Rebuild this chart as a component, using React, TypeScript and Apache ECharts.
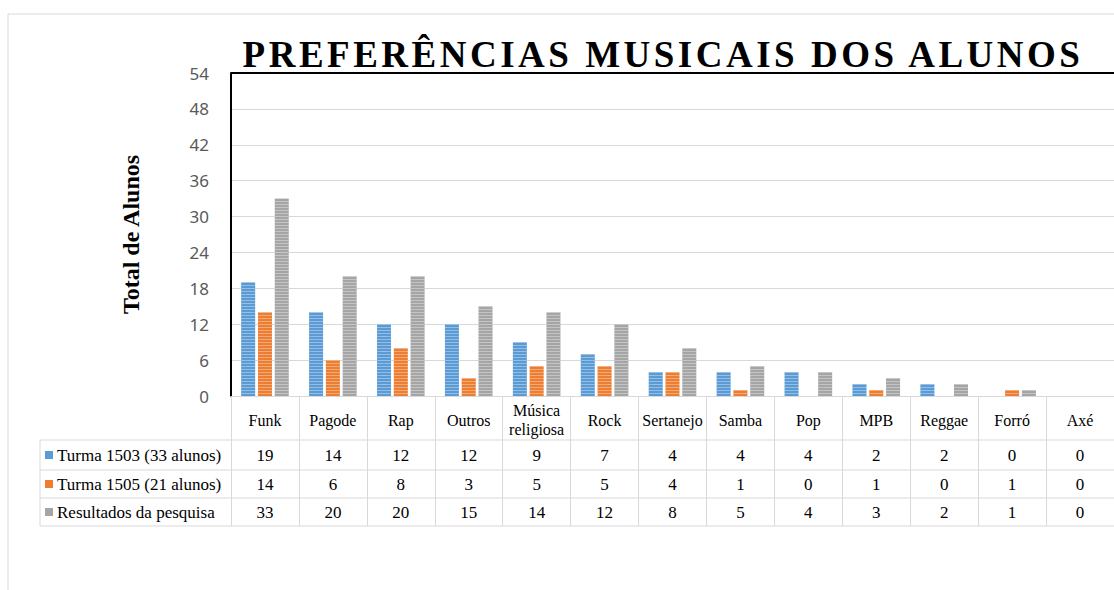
import React, { useEffect, useRef } from "react";
import * as echarts from "echarts";

const categories = ["Funk", "Pagode", "Rap", "Outros", "Música religiosa", "Rock", "Sertanejo", "Samba", "Pop", "MPB", "Reggae", "Forró", "Axé"];
const seriesNames = ["Turma 1503 (33 alunos)", "Turma 1505 (21 alunos)", "Resultados da pesquisa"];
const turma1503 = [19, 14, 12, 12, 9, 7, 4, 4, 4, 2, 2, 0, 0];
const turma1505 = [14, 6, 8, 3, 5, 5, 4, 1, 0, 1, 0, 1, 0];
const resultados = [33, 20, 20, 15, 14, 12, 8, 5, 4, 3, 2, 1, 0];
const seriesColors = ["#5B9BD5", "#ED7D31", "#A5A5A5"];
const titleText = "PREFERÊNCIAS MUSICAIS DOS ALUNOS";
const yAxisName = "Total de Alunos";

export default function App() {
  const ref = useRef<HTMLDivElement>(null);
  useEffect(() => {
    if (!ref.current) return;
    const chart = echarts.init(ref.current, undefined, { renderer: "svg" });
    const allData = [turma1503, turma1505, resultados];
    const gridLeft = 231, gridTop = 73, gridW = 887, gridH = 323;
    const serif = "'Liberation Serif', 'Times New Roman', serif";
    const decal = {
      symbol: "rect",
      symbolSize: 1,
      dashArrayX: [1, 0],
      dashArrayY: [1, 2],
      color: "rgba(255,255,255,0.35)",
      rotation: 0,
    };
    chart.setOption({
      animation: false,
      aria: { enabled: true, decal: { show: true } },
      title: {
        text: titleText,
        left: 658,
        textAlign: "center",
        top: 31,
        textStyle: { fontFamily: serif, fontWeight: "bold", fontSize: 37, color: "#000" },
      },
      grid: { left: gridLeft, top: gridTop, width: gridW, height: gridH },
      xAxis: {
        type: "category",
        data: categories,
        axisLine: { show: true, lineStyle: { color: "#D9D9D9", width: 1 } },
        axisTick: { show: true, length: 130, lineStyle: { color: "#D9D9D9" } },
        axisLabel: {
          interval: 0,
          margin: 24,
          verticalAlign: "middle",
          fontFamily: serif,
          fontSize: 16,
          lineHeight: 19,
          color: "#000",
          formatter: (v: string) => v.replace(" ", "\n"),
        },
      },
      yAxis: {
        type: "value",
        min: 0,
        max: 54,
        interval: 6,
        name: yAxisName,
        nameLocation: "middle",
        nameGap: 88,
        nameRotate: 90,
        nameTextStyle: { fontFamily: serif, fontWeight: "bold", fontSize: 24, color: "#000" },
        axisLine: { show: true, lineStyle: { color: "#000", width: 2 } },
        axisTick: { show: false },
        axisLabel: { margin: 22, fontFamily: "'Noto Sans', sans-serif", fontSize: 17, color: "#595959" },
        splitLine: { lineStyle: { color: "#D9D9D9" } },
      },
      series: allData.map((d, i) => ({
        name: seriesNames[i],
        type: "bar",
        data: d,
        barWidth: 14,
        barGap: "20%",
        itemStyle: { color: seriesColors[i], decal },
      })),
    });

    const rowLines = [440, 470, 498, 526];
    const rowCenters = [455, 484, 512];
    const left = 40;
    const right = gridLeft + gridW;
    const graphics: any[] = [
      {
        type: "rect",
        shape: { x: 8, y: 14, width: 1300, height: 800 },
        style: { fill: "none", stroke: "#D9D9D9", lineWidth: 1 },
        silent: true,
      },
      {
        type: "line",
        shape: { x1: gridLeft, y1: gridTop, x2: right, y2: gridTop },
        style: { stroke: "#000", lineWidth: 2 },
      },
      {
        type: "line",
        shape: { x1: left, y1: rowLines[0], x2: left, y2: rowLines[3] },
        style: { stroke: "#D9D9D9", lineWidth: 1 },
      },
    ];
    rowLines.forEach((y) => {
      graphics.push({
        type: "line",
        shape: { x1: left, y1: y, x2: right, y2: y },
        style: { stroke: "#D9D9D9", lineWidth: 1 },
      });
    });
    seriesNames.forEach((name, r) => {
      graphics.push({
        type: "rect",
        shape: { x: 45, y: rowCenters[r] - 4, width: 8, height: 8 },
        style: { fill: seriesColors[r] },
      });
      graphics.push({
        type: "text",
        x: 57,
        y: rowCenters[r],
        style: { text: name, fontFamily: serif, fontSize: 17, fill: "#000", textVerticalAlign: "middle", textAlign: "left" },
      });
      allData[r].forEach((v, c) => {
        const x = chart.convertToPixel({ xAxisIndex: 0 }, c) as number;
        graphics.push({
          type: "text",
          x,
          y: rowCenters[r],
          style: { text: String(v), fontFamily: serif, fontSize: 17, fill: "#000", textAlign: "center", textVerticalAlign: "middle" },
        });
      });
    });
    chart.setOption({ graphic: graphics });

    // widen the title's letter spacing like the original
    ref.current.querySelectorAll("text").forEach((t) => {
      if (t.textContent === titleText) {
        (t as SVGTextElement).style.letterSpacing = "3.5px";
      }
    });
    return () => chart.dispose();
  }, []);
  return <div ref={ref} style={{ position: "fixed", left: 0, top: 0, width: 1114, height: 590, background: "#fff" }} />;
}
